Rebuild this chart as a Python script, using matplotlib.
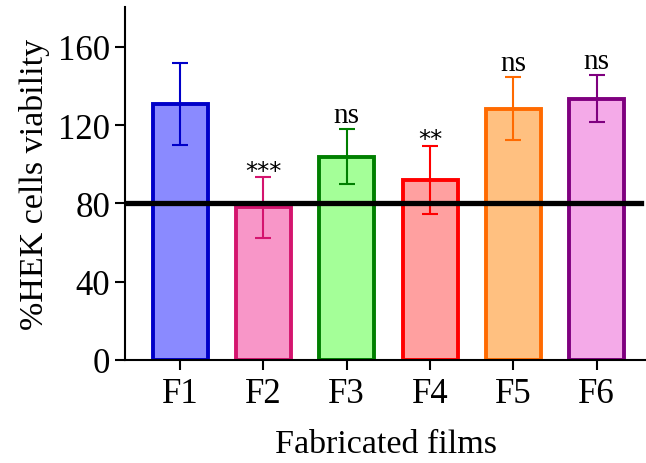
import numpy as np
import matplotlib.pyplot as plt

plt.rcParams['font.family'] = ['Liberation Serif', 'DejaVu Serif']

films = ['F1', 'F2', 'F3', 'F4', 'F5', 'F6']
viability = [131, 78, 104, 92, 128.5, 133.5]
err = [21, 15.5, 14, 17.5, 16, 12]
marks = ['', '***', 'ns', '**', 'ns', 'ns']
fills = ['#8a8aff', '#f896c8', '#a4ff98', '#ffa0a0', '#ffc080', '#f4aae8']
edges = ['#0000c8', '#d4146e', '#007f00', '#ff0000', '#ff6a00', '#7f007f']
threshold = 80

fig = plt.figure(figsize=(6.46, 4.64), dpi=100)
ax = fig.add_axes([0.1935, 0.222, 0.8065, 0.761])

x = np.arange(len(films))
ax.bar(x, viability, width=0.66, color=fills, edgecolor=edges, linewidth=2.8, zorder=2)
for i in range(len(films)):
    ax.errorbar(x[i], viability[i], yerr=err[i], color=edges[i], elinewidth=1.5,
                capsize=6, capthick=1.5, zorder=3)
    if marks[i] == 'ns':
        ax.annotate(marks[i], (x[i], viability[i] + err[i]), xytext=(0, 1),
                    textcoords='offset points', ha='center', va='bottom', fontsize=21)
    elif marks[i]:
        ax.annotate(marks[i], (x[i], viability[i] + err[i]), xytext=(0, -4),
                    textcoords='offset points', ha='center', va='bottom', fontsize=17.5,
                    family='DejaVu Sans')

ax.plot([-0.66, 5.53], [threshold, threshold], color='black', linewidth=3.8, zorder=4)

ax.set_xlim(-0.66, 5.59)
ax.set_ylim(0, 180.5)
ax.set_yticks([0, 40, 80, 120, 160])
ax.set_xticks(x)
ax.set_xticklabels(films)
ax.spines['top'].set_visible(False)
ax.spines['right'].set_visible(False)
ax.spines['left'].set_linewidth(1.5)
ax.spines['bottom'].set_linewidth(1.5)
ax.tick_params(axis='both', labelsize=25, width=1.5, length=7)
ax.tick_params(axis='x', pad=5)
ax.set_ylabel('%HEK cells viability', fontsize=24.5)
ax.set_xlabel('Fabricated films', fontsize=24.5)
ax.yaxis.set_label_coords(-0.144, 0.5)
ax.xaxis.set_label_coords(0.5, -0.195)

fig.savefig('out.png', dpi=100)
